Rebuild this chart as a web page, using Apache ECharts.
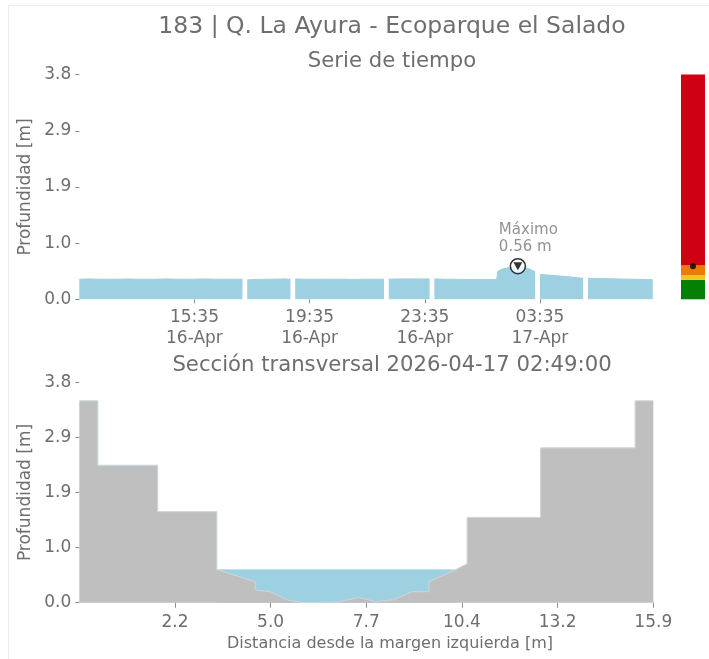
<!DOCTYPE html>
<html><head><meta charset="utf-8">
<script src="https://cdn.jsdelivr.net/npm/echarts@6/dist/echarts.min.js"></script>
<style>html,body{margin:0;padding:0;background:#fff}#c{width:709px;height:659px}</style>
</head><body><div id="c"></div>
<script>
// ---------- data ----------
const mainTitle = '183 | Q. La Ayura - Ecoparque el Salado';
const topTitle = 'Serie de tiempo';
const bottomTitle = 'Sección transversal 2026-04-17 02:49:00';
const yName = 'Profundidad [m]';
const xNameBottom = 'Distancia desde la margen izquierda [m]';

// time series (null = gap in the record)
const seriesTimes = [
  '2026-04-16 11:35','2026-04-16 11:55','2026-04-16 12:15','2026-04-16 12:35','2026-04-16 12:55',
  '2026-04-16 13:15','2026-04-16 13:35','2026-04-16 13:55','2026-04-16 14:15','2026-04-16 14:35',
  '2026-04-16 14:55','2026-04-16 15:15','2026-04-16 15:35','2026-04-16 15:55','2026-04-16 16:15',
  '2026-04-16 16:35','2026-04-16 16:55','2026-04-16 17:15','2026-04-16 17:20',
  '2026-04-16 17:25','2026-04-16 17:45','2026-04-16 18:05','2026-04-16 18:25','2026-04-16 18:40',
  '2026-04-16 18:55','2026-04-16 19:00',
  '2026-04-16 19:05','2026-04-16 19:25','2026-04-16 19:45','2026-04-16 20:05','2026-04-16 20:25',
  '2026-04-16 20:45','2026-04-16 21:05','2026-04-16 21:25','2026-04-16 21:45','2026-04-16 22:10',
  '2026-04-16 22:15',
  '2026-04-16 22:20','2026-04-16 22:40','2026-04-16 23:00','2026-04-16 23:20','2026-04-16 23:45',
  '2026-04-16 23:50',
  '2026-04-16 23:55','2026-04-17 00:15','2026-04-17 00:35','2026-04-17 00:55','2026-04-17 01:15',
  '2026-04-17 01:35','2026-04-17 02:05','2026-04-17 02:07','2026-04-17 02:15','2026-04-17 02:30',
  '2026-04-17 02:40','2026-04-17 02:49','2026-04-17 03:00','2026-04-17 03:12','2026-04-17 03:25',
  '2026-04-17 03:30',
  '2026-04-17 03:35','2026-04-17 04:00','2026-04-17 04:30','2026-04-17 05:05','2026-04-17 05:10',
  '2026-04-17 05:15','2026-04-17 05:45','2026-04-17 06:15','2026-04-17 06:45','2026-04-17 07:15',
  '2026-04-17 07:30'
];
const seriesDepth = [
  0.34,0.345,0.34,0.34,0.34,
  0.345,0.34,0.34,0.34,0.345,
  0.34,0.34,0.34,0.345,0.34,
  0.34,0.34,0.34,null,
  0.33,0.335,0.34,0.34,0.345,
  0.34,null,
  0.345,0.34,0.34,0.34,0.34,
  0.34,0.335,0.34,0.34,0.34,
  null,
  0.34,0.345,0.345,0.345,0.345,
  null,
  0.345,0.34,0.34,0.335,0.335,
  0.335,0.335,0.47,0.51,0.535,
  0.55,0.56,0.545,0.515,0.465,
  null,
  0.42,0.405,0.385,0.355,null,
  0.355,0.35,0.345,0.34,0.335,
  0.33
];
const peakTime = '2026-04-17 02:49';
const peakDepth = 0.56;
const currentDepth = 0.56;

const timeTicks = ['2026-04-16 15:35','2026-04-16 19:35','2026-04-16 23:35','2026-04-17 03:35'];
const timeTickLabels = ['15:35\n16-Apr','19:35\n16-Apr','23:35\n16-Apr','03:35\n17-Apr'];

const depthTicks = [0, 0.95, 1.9, 2.85, 3.8];
const depthTickLabels = ['0.0','1.0','1.9','2.9','3.8'];

// alert bands (upper bounds, m)
const bandUpper = [0.33, 0.41, 0.57, 3.8];
const bandNames = ['normal','amarilla','naranja','roja'];

// cross section
const bedX = [-0.5,0.03,0.03,1.74,1.74,3.43,3.43,4.53,4.53,4.96,5.43,5.91,6.48,6.96,7.48,7.96,8.48,9.01,9.49,9.49,10.25,10.58,10.58,12.68,12.68,15.38,15.38,15.9];
const bedY = [3.48,3.48,2.37,2.37,1.57,1.57,0.57,0.36,0.22,0.19,0.05,0.0,0.0,0.02,0.09,0.02,0.05,0.19,0.19,0.36,0.57,0.67,1.47,1.47,2.67,2.67,3.48,3.48];
const waterX = [3.43, 10.25];
const waterLevel = 0.57;
const distTicks = [2.2333, 4.9667, 7.7, 10.4333, 13.1667, 15.9];
const distTickLabels = ['2.2','5.0','7.7','10.4','13.2','15.9'];

// ---------- build ----------
function ts(s){const [d,t]=s.split(' ');const [Y,M,D]=d.split('-').map(Number);const [h,m]=t.split(':').map(Number);return Date.UTC(Y,M-1,D,h,m);}
function nearestLabel(v, vals, labels){let bi=0,bd=Infinity;vals.forEach((x,i)=>{const d=Math.abs(x-v);if(d<bd){bd=d;bi=i;}});return labels[bi];}

const FONT = 'DejaVu Sans';
const TXT = '#6e6e6e';
const BLUE = '#9dd0e0';
const GRAY = '#bfbfbf';

const tsData = seriesTimes.map((t,i)=>[ts(t), seriesDepth[i]===null ? '-' : seriesDepth[i]]);
const tickTs = timeTicks.map(ts);

const yAxisCommon = (gi) => ({
  type:'value', gridIndex: gi, min: 0, max: 3.8,
  name: yName, nameLocation:'middle', nameGap: 45, nameRotate: 90, nameMoveOverlap:false,
  nameTextStyle:{color:TXT, fontFamily:FONT, fontSize:17},
  axisLine:{show:false, onZero:false}, splitLine:{show:false},
  axisTick:{show:true, customValues: depthTicks, length:4, lineStyle:{color:'#8a8a8a'}},
  axisLabel:{customValues: depthTicks, color:TXT, fontFamily:FONT, fontSize:17, margin:8,
    formatter: v => nearestLabel(v, depthTicks, depthTickLabels)}
});

const bandSeries = bandUpper.map((u,i)=>({
  type:'bar', name: bandNames[i], xAxisIndex:2, yAxisIndex:2, stack:'g', barWidth:'100%',
  data:[u - (i ? bandUpper[i-1] : 0)],
  itemStyle:{color:['#058005','#f6c51d','#e97c0b','#d00014'][i]}, silent:true
}));

const titleStyle = (size) => ({color:TXT, fontFamily:FONT, fontSize:size, fontWeight:'normal'});

const option = {
  animation:false,
  backgroundColor:'#fff',
  textStyle:{fontFamily:FONT},
  title:[
    {text: mainTitle, left: 392, top: 15, padding:0, textAlign:'center', textStyle:titleStyle(23.5)},
    {text: topTitle, left: 392, top: 51, padding:0, textAlign:'center', textStyle:titleStyle(21.2)},
    {text: bottomTitle, left: 392, top: 355, padding:0, textAlign:'center', textStyle:titleStyle(21.2)}
  ],
  graphic:[
    {type:'rect', shape:{x:8.5, y:5.5, width:720, height:680}, style:{fill:null, stroke:'#ececec', lineWidth:1}, silent:true, z:-10},
    {type:'text', left: 392 - 165, top: 636, style:{text: xNameBottom, fill:TXT, font:'16px "DejaVu Sans"'}}
  ],
  grid:[
    {left:79.3, top:74.7, width:573.4, height:224.6},
    {left:79.3, top:382.3, width:574, height:220.4},
    {left:681, top:74.5, width:24, height:224.8}
  ],
  xAxis:[
    {type:'value', gridIndex:0, min: tsData[0][0], max: tsData[tsData.length-1][0],
     axisLine:{show:false, onZero:false}, splitLine:{show:false},
     axisTick:{show:true, customValues: tickTs, length:4, lineStyle:{color:'#8a8a8a'}},
     axisLabel:{customValues: tickTs, color:TXT, fontFamily:FONT, fontSize:17, lineHeight:21, margin:8,
       formatter: v => nearestLabel(v, tickTs, timeTickLabels)}},
    {type:'value', gridIndex:1, min:-0.5, max:15.9,
     axisLine:{show:false, onZero:false}, splitLine:{show:false},
     axisTick:{show:true, customValues: distTicks, length:5, lineStyle:{color:'#8a8a8a'}},
     axisLabel:{customValues: distTicks, color:TXT, fontFamily:FONT, fontSize:17, margin:11,
       formatter: v => nearestLabel(v, distTicks, distTickLabels)}},
    {type:'category', gridIndex:2, data:['nivel'], show:false}
  ],
  yAxis:[
    yAxisCommon(0),
    yAxisCommon(1),
    {type:'value', gridIndex:2, min:0, max:3.8, show:false}
  ],
  series:[
    {type:'line', xAxisIndex:0, yAxisIndex:0, data: tsData, showSymbol:false, connectNulls:false,
     lineStyle:{color:BLUE, width:1}, areaStyle:{color:BLUE, opacity:1, origin:'start'}, silent:true},
    {type:'scatter', xAxisIndex:0, yAxisIndex:0, data:[[ts(peakTime), peakDepth]], symbol:'circle', symbolSize:15,
     itemStyle:{color:'#fff', borderColor:'#000', borderWidth:1.5}, z:5, silent:true,
     label:{show:true, position:'top', distance:2, align:'left', offset:[-19,0], color:'#777', fontFamily:FONT, fontSize:15, lineHeight:17,
       formatter: () => 'Máximo\n' + peakDepth.toFixed(2) + ' m'}},
    {type:'scatter', xAxisIndex:0, yAxisIndex:0, data:[[ts(peakTime), peakDepth]], symbol:'triangle', symbolRotate:180, symbolSize:[9,8],
     itemStyle:{color:'#000'}, z:6, silent:true},
    {type:'line', xAxisIndex:1, yAxisIndex:1, data: waterX.map(x=>[x, waterLevel]), showSymbol:false,
     lineStyle:{color:'#b9dde8', width:1}, areaStyle:{color:BLUE, opacity:1, origin:'start'}, silent:true},
    {type:'line', xAxisIndex:1, yAxisIndex:1, data: bedX.map((x,i)=>[x, bedY[i]]), showSymbol:false,
     lineStyle:{color:'#cdd6d9', width:1}, areaStyle:{color:GRAY, opacity:1, origin:'start'}, silent:true},
    ...bandSeries,
    {type:'scatter', xAxisIndex:2, yAxisIndex:2, data:[[0, currentDepth]], symbolSize:6, itemStyle:{color:'#000'}, z:10, silent:true}
  ]
};

const chart = echarts.init(document.getElementById('c'), null, {renderer:'canvas'});
chart.setOption(option);
</script>
</body></html>
